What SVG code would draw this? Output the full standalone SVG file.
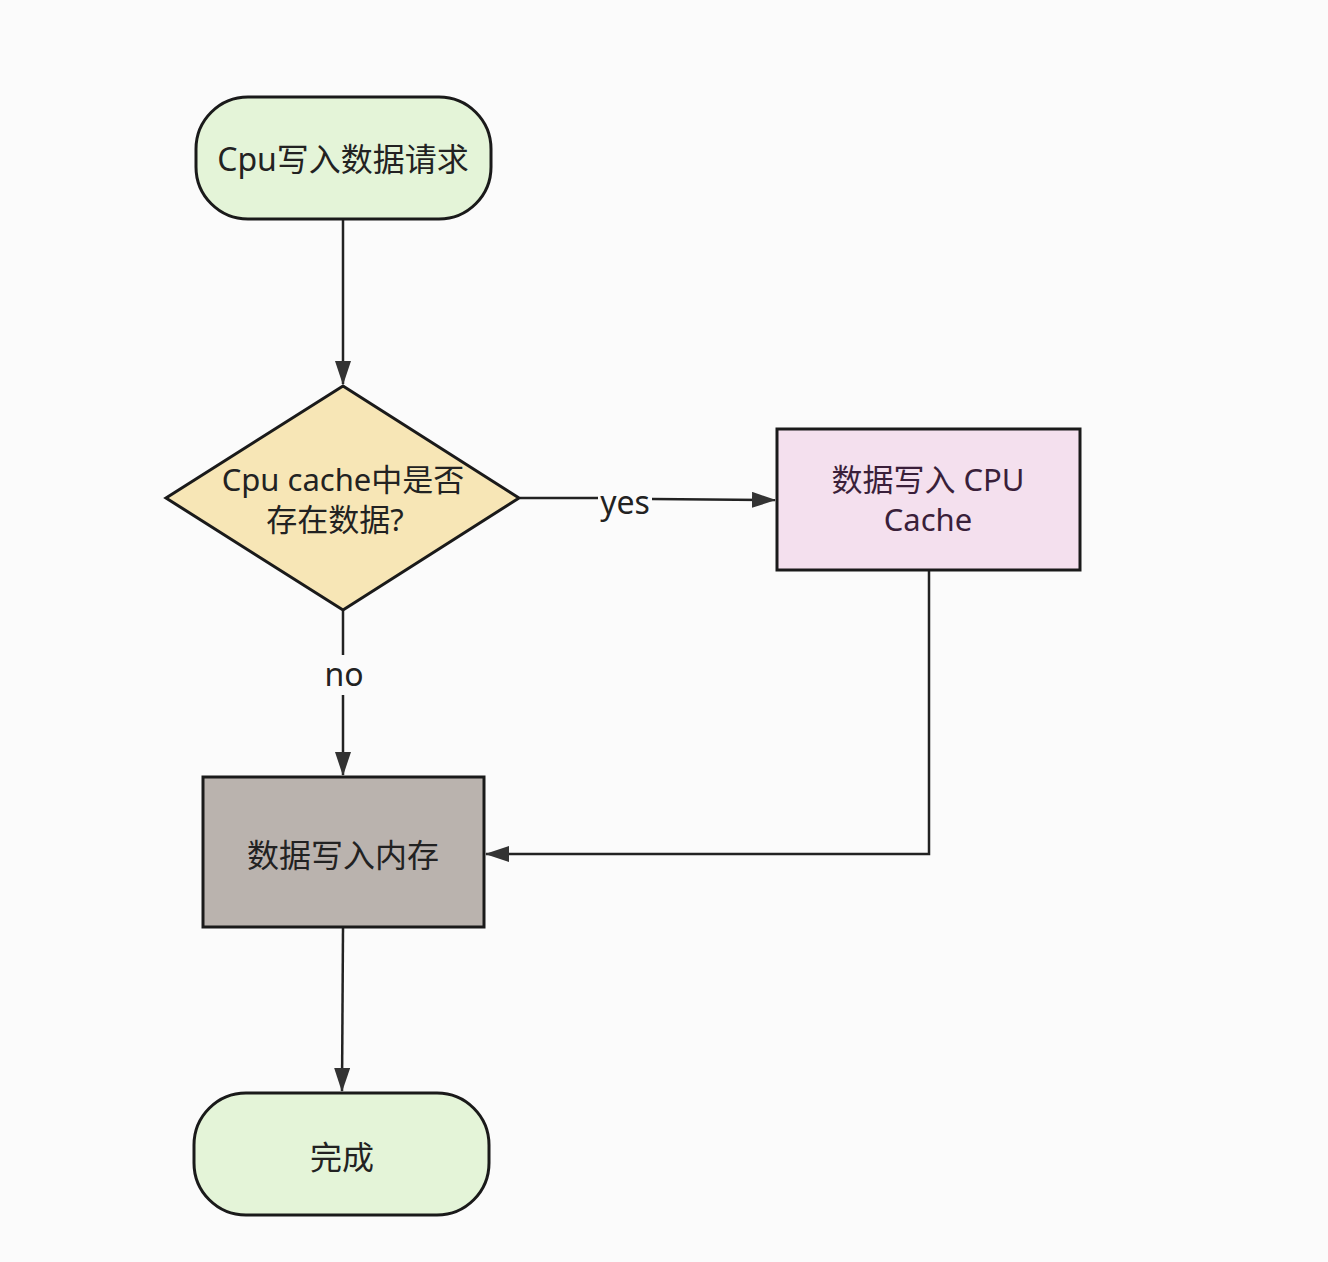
<svg xmlns="http://www.w3.org/2000/svg" width="1328" height="1262" viewBox="0 0 1328 1262">
<defs>
<style>
.n{stroke:#1a1a1a;stroke-width:3}
.t{font-family:"Noto Sans","Noto Sans CJK SC",sans-serif;font-size:31px;fill:#222;text-anchor:middle;dominant-baseline:central}
.c{fill:none;stroke:#222;stroke-width:2.5}
.lbl{font-family:"Noto Sans","Noto Sans CJK SC",sans-serif;font-size:32px;fill:#222;text-anchor:middle;dominant-baseline:central}
</style>
<marker id="ah" markerWidth="24" markerHeight="16" refX="23" refY="8" orient="auto" markerUnits="userSpaceOnUse">
<path d="M0,0 L24,8 L0,16 Z" fill="#333"/>
</marker>
</defs>
<rect width="1328" height="1262" fill="#fbfbfb"/>
<g id="connectors">
<line class="c" x1="343" y1="220" x2="343" y2="384" marker-end="url(#ah)"/>
<polyline class="c" points="520,498 598,498"/>
<polyline class="c" points="652,499 775,500" marker-end="url(#ah)"/>
<text class="lbl" x="625" y="501">yes</text>
<line class="c" x1="343" y1="611" x2="343" y2="655"/>
<line class="c" x1="343" y1="695" x2="343" y2="775" marker-end="url(#ah)"/>
<text class="lbl" x="344" y="673">no</text>
<polyline class="c" points="929,571 929,854 486,854" marker-end="url(#ah)"/>
<line class="c" x1="343" y1="928" x2="342" y2="1091" marker-end="url(#ah)"/>
</g>
<g id="start">
<rect class="n" x="196" y="97" width="295" height="122" rx="52" fill="#e4f4d8"/>
<text class="t" x="343" y="158" style="font-size:32px">Cpu写入数据请求</text>
</g>
<g id="decision">
<polygon class="n" points="343,386 519,498 343,610 166,498" fill="#f7e6b6"/>
<text class="t" x="343" y="479">Cpu cache中是否</text>
<text class="t" x="335" y="519">存在数据?</text>
</g>
<g id="cache">
<rect class="n" x="777" y="429" width="303" height="141" fill="#f4e0ee"/>
<text class="t" x="928" y="479" style="fill:#3a1f3a">数据写入 CPU</text>
<text class="t" x="928" y="519" style="fill:#3a1f3a">Cache</text>
</g>
<g id="memory">
<rect class="n" x="203" y="777" width="281" height="150" fill="#bab3ae"/>
<text class="t" x="343" y="854" style="font-size:32px">数据写入内存</text>
</g>
<g id="end">
<rect class="n" x="194" y="1093" width="295" height="122" rx="52" fill="#e4f4d8"/>
<text class="t" x="342" y="1156" style="font-size:32px">完成</text>
</g>
</svg>
